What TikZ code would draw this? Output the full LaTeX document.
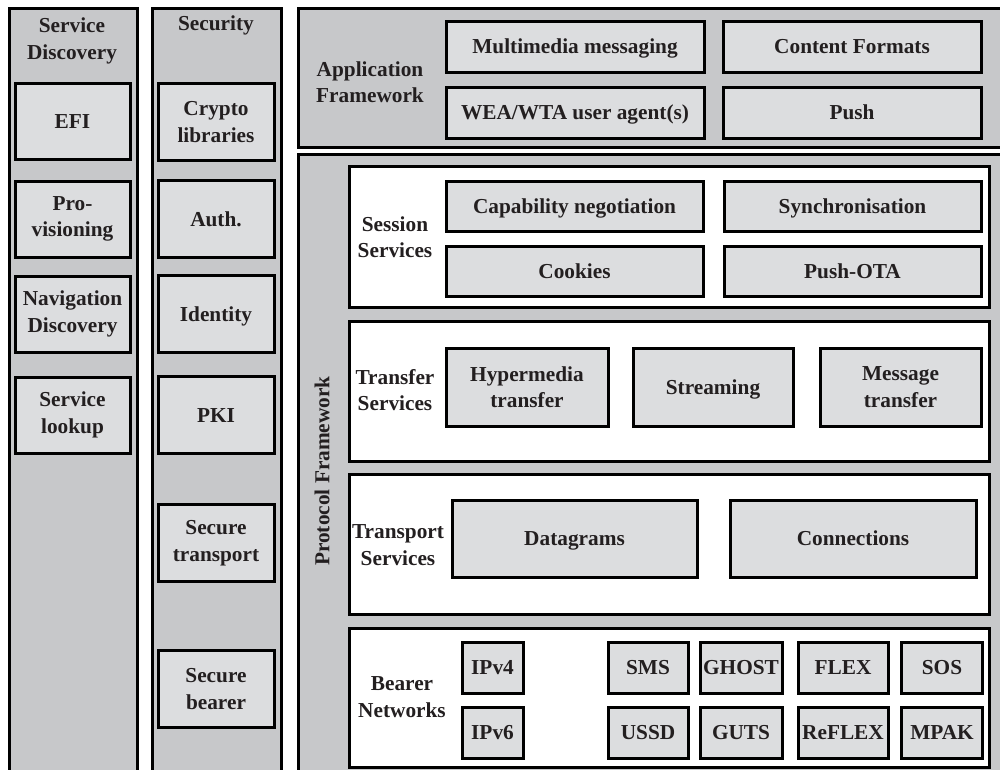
\documentclass[tikz,border=0pt]{standalone}
\usepackage{fontspec}
\setmainfont{Liberation Serif}
\definecolor{outergray}{HTML}{C7C8CA}
\definecolor{innergray}{HTML}{DCDDDF}
\definecolor{txt}{HTML}{231F20}
\begin{document}
\begin{tikzpicture}[x=1pt,y=-1pt,
  frame/.style={draw=black,line width=3pt,fill=outergray,inner sep=0pt,anchor=north west},
  wbox/.style={draw=black,line width=3pt,fill=white,inner sep=0pt,minimum width=640pt,minimum height=140pt},
  ibox/.style={draw=black,line width=3pt,fill=innergray,inner sep=0pt,align=center,text=txt,
     font=\fontsize{21.3}{26.5}\selectfont\bfseries},
  one/.style={text height=14pt,text depth=0pt},
  lbl/.style={align=center,text=txt,inner sep=0pt,font=\fontsize{21.3}{26.5}\selectfont\bfseries},
  c1/.style={ibox,minimum width=115pt,minimum height=76pt},
  c2/.style={ibox,minimum width=116pt,minimum height=77pt},
  ab/.style={ibox,one,minimum width=258pt,minimum height=51pt},
  bb/.style={ibox,one,minimum height=51pt}
]
\useasboundingbox (0,0) rectangle (1000,770);
\clip (0,0) rectangle (1000,770);
% outer frames
\node[frame,minimum width=128pt,minimum height=800pt] (sd) at (8,7) {};
\node[frame,minimum width=129pt,minimum height=800pt] (sec) at (151,7) {};
\node[frame,minimum width=713pt,minimum height=139pt] (app) at (297,7) {};
\node[frame,minimum width=713pt,minimum height=650pt] (proto) at (297,153) {};
% column 1
\node[lbl] (sdl) at (72,41) {Service\\Discovery};
\node[c1,one] (efi) at (72.5,122) {EFI};
\node[c1] (prov) at (72.5,219) {Pro-\\visioning};
\node[c1] (nav) at (72.5,314) {Navigation\\Discovery};
\node[c1] (look) at (72.5,415) {Service\\lookup};
% column 2
\node[lbl,one] (secl) at (216,24) {Security};
\node[c2] (crypto) at (216,122) {Crypto\\libraries};
\node[c2,one] (auth) at (216,219) {Auth.};
\node[c2,one] (ident) at (216,314) {Identity};
\node[c2,one] (pki) at (216,415) {PKI};
\node[c2] (strans) at (216,543) {Secure\\transport};
\node[c2] (sbear) at (216,689) {Secure\\bearer};
% application framework
\node[lbl] (appl) at (370,82) {Application\\Framework};
\node[ab] (mms) at (575,47) {Multimedia messaging};
\node[ab] (wea) at (575,113) {WEA/WTA user agent(s)};
\node[ab] (cf) at (852,47) {Content Formats};
\node[ab] (push) at (852,113) {Push};
% protocol framework
\node[lbl,rotate=90] (protol) at (322,471) {Protocol Framework};
\node[wbox] (sess) at (669,237) {};
\node[wbox] (transf) at (669,391) {};
\node[wbox] (transp) at (669,544) {};
\node[wbox,minimum height=139pt] (bear) at (669,697.5) {};
% session
\node[lbl] (sessl) at (395,237) {Session\\Services};
\node[ibox,one,minimum width=257pt,minimum height=50pt] (cap) at (574.5,206) {Capability negotiation};
\node[ibox,one,minimum width=257pt,minimum height=50pt] (cook) at (574.5,271) {Cookies};
\node[ibox,one,minimum width=257pt,minimum height=50pt] (sync) at (852.5,206) {Synchronisation};
\node[ibox,one,minimum width=257pt,minimum height=50pt] (pota) at (852.5,271) {Push-OTA};
% transfer
\node[lbl] (transfl) at (395,390) {Transfer\\Services};
\node[ibox,minimum width=162pt,minimum height=78pt] (hyper) at (527,387) {Hypermedia\\transfer};
\node[ibox,one,minimum width=160pt,minimum height=78pt] (stream) at (713,387) {Streaming};
\node[ibox,minimum width=161pt,minimum height=78pt] (msg) at (900.5,387) {Message\\transfer};
% transport
\node[lbl] (transpl) at (398,545) {Transport\\Services};
\node[ibox,one,minimum width=245pt,minimum height=77pt] (dgram) at (574.5,538.5) {Datagrams};
\node[ibox,one,minimum width=246pt,minimum height=77pt] (conn) at (853,538.5) {Connections};
% bearer
\node[lbl] (bearl) at (402,697) {Bearer\\Networks};
\node[bb,minimum width=61pt] (ipv4) at (492.5,667.5) {IPv4};
\node[bb,minimum width=61pt] (ipv6) at (492.5,732.5) {IPv6};
\node[bb,minimum width=80pt] (sms) at (648,667.5) {SMS};
\node[bb,minimum width=80pt] (ussd) at (648,732.5) {USSD};
\node[bb,minimum width=82pt] (ghost) at (741,667.5) {GHOST};
\node[bb,minimum width=82pt] (guts) at (741,732.5) {GUTS};
\node[bb,minimum width=90pt] (flex) at (843,667.5) {FLEX};
\node[bb,minimum width=90pt] (reflex) at (843,732.5) {ReFLEX};
\node[bb,minimum width=81pt] (sos) at (942,667.5) {SOS};
\node[bb,minimum width=81pt] (mpak) at (942,732.5) {MPAK};
\end{tikzpicture}
\end{document}
